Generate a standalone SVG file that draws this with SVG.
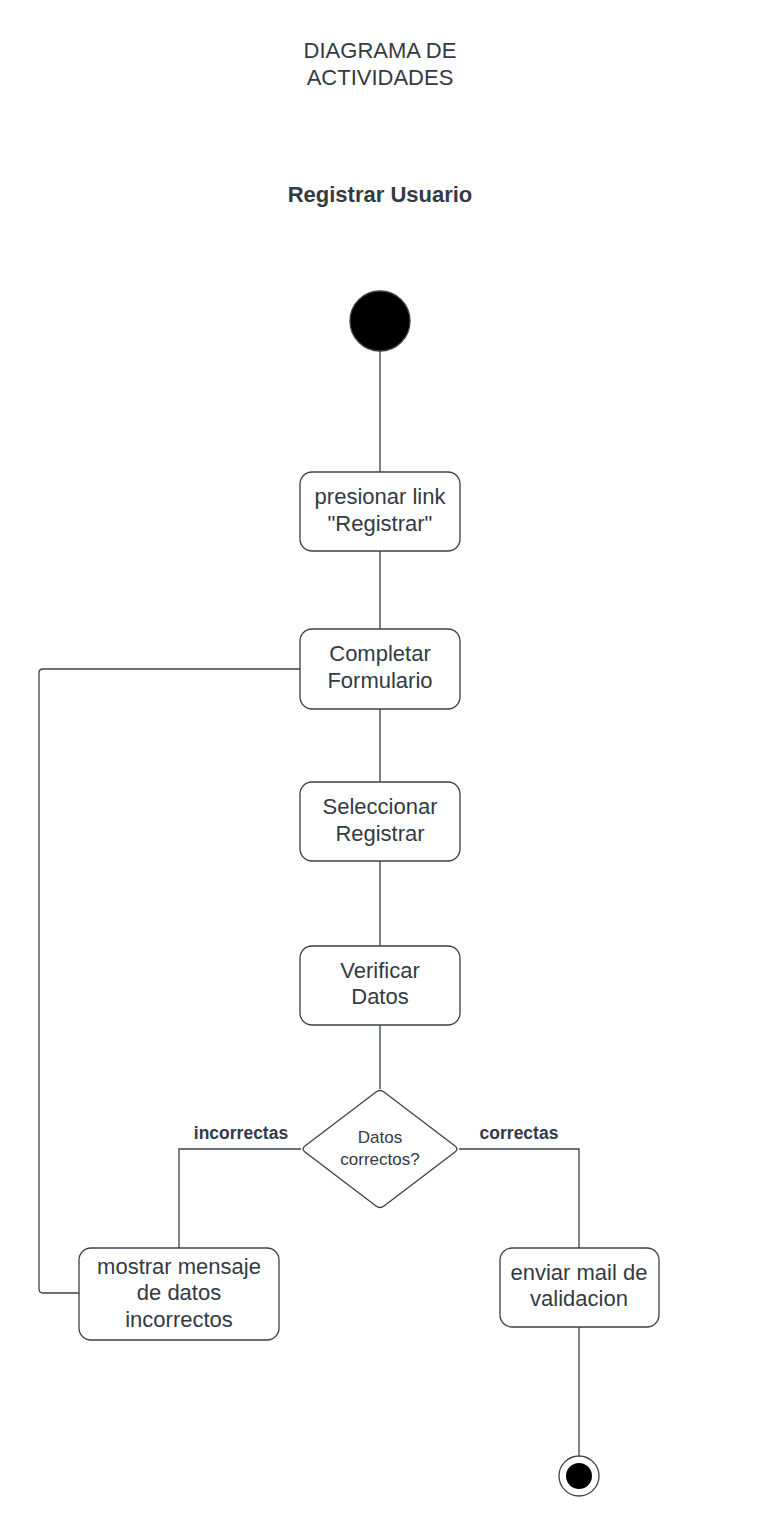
<svg xmlns="http://www.w3.org/2000/svg" width="778" height="1538" viewBox="0 0 778 1538">
<style>
.t{font-family:"Liberation Sans",Arial,sans-serif;fill:#333a44;text-anchor:middle}
.n{font-size:22px}
.s{font-size:17px}
.l{font-size:17.5px}
.b{font-weight:bold}
.box{fill:#fff;stroke:#3a414a;stroke-width:1.3}
.c{fill:none;stroke:#3a414a;stroke-width:1.3}
</style>
<rect width="778" height="1538" fill="#fff"/>
<g id="title">
<text class="t n" x="380" y="58">DIAGRAMA DE</text>
<text class="t n" x="380" y="85">ACTIVIDADES</text>
<text class="t n b" x="380" y="202">Registrar Usuario</text>
</g>
<g id="connectors">
<path class="c" d="M380 351V472"/>
<path class="c" d="M380 551V629"/>
<path class="c" d="M380 709V782"/>
<path class="c" d="M380 861V946"/>
<path class="c" d="M380 1025V1089"/>
<path class="c" d="M301 1149H179V1248"/>
<path class="c" d="M459 1149H579V1248"/>
<path class="c" d="M579 1327V1456"/>
<path class="c" d="M79 1293H43Q39 1293 39 1289V673Q39 669 43 669H300"/>
<text class="t l b" x="241" y="1139">incorrectas</text>
<text class="t l b" x="519" y="1139">correctas</text>
</g>
<g id="start"><circle cx="380" cy="321" r="30" fill="#000" stroke="#3a414a" stroke-width="1.3"/></g>
<g id="n1"><rect class="box" x="300" y="472" width="160" height="79" rx="12"/>
<text class="t n" x="380" y="504">presionar link</text><text class="t n" x="380" y="531">"Registrar"</text></g>
<g id="n2"><rect class="box" x="300" y="629" width="160" height="80" rx="12"/>
<text class="t n" x="380" y="661">Completar</text><text class="t n" x="380" y="688">Formulario</text></g>
<g id="n3"><rect class="box" x="300" y="782" width="160" height="79" rx="12"/>
<text class="t n" x="380" y="814">Seleccionar</text><text class="t n" x="380" y="841">Registrar</text></g>
<g id="n4"><rect class="box" x="300" y="946" width="160" height="79" rx="12"/>
<text class="t n" x="380" y="978">Verificar</text><text class="t n" x="380" y="1004">Datos</text></g>
<g id="decision"><path class="box" d="M384 1092L455 1146Q459 1149 455 1152L384 1206Q380 1209 376 1206L305 1152Q301 1149 305 1146L376 1092Q380 1089 384 1092Z"/>
<text class="t s" x="380" y="1143">Datos</text><text class="t s" x="380" y="1165">correctos?</text></g>
<g id="n5"><rect class="box" x="79" y="1248" width="200" height="92" rx="12"/>
<text class="t n" x="179" y="1274">mostrar mensaje</text><text class="t n" x="179" y="1300">de datos</text><text class="t n" x="179" y="1327">incorrectos</text></g>
<g id="n6"><rect class="box" x="500" y="1248" width="159" height="79" rx="12"/>
<text class="t n" x="579" y="1280">enviar mail de</text><text class="t n" x="579" y="1306">validacion</text></g>
<g id="end"><circle cx="579" cy="1476" r="20" fill="#fff" stroke="#3a414a" stroke-width="1.3"/><circle cx="579" cy="1476" r="13" fill="#000"/></g>
</svg>
